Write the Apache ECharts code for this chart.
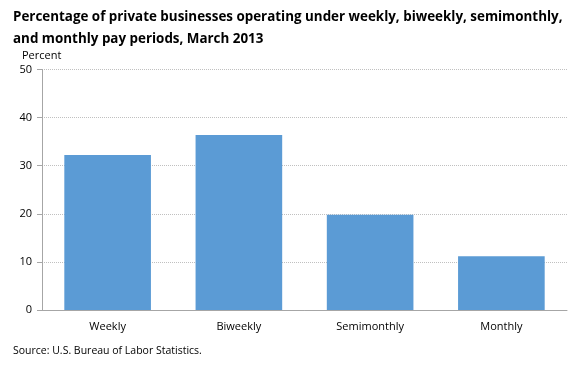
<!DOCTYPE html>
<html><head><meta charset="utf-8">
<script src="https://cdn.jsdelivr.net/npm/echarts@6/dist/echarts.min.js"></script>
<style>html,body{margin:0;padding:0;background:#fff}#c{width:582px;height:366px}</style>
</head><body><div id="c"></div>
<script>
var categories = ["Weekly", "Biweekly", "Semimonthly", "Monthly"];
var values = [32.2, 36.4, 19.8, 11.2];
var yTicks = [0, 10, 20, 30, 40, 50];

var chart = echarts.init(document.getElementById('c'), null, {renderer: 'canvas'});
var font = "'Open Sans', 'Noto Sans', sans-serif";
chart.setOption({
  animation: false,
  title: [{
    text: "Percentage of private businesses operating under weekly, biweekly, semimonthly,\nand monthly pay periods, March 2013",
    left: 8, top: 1,
    textStyle: {fontFamily: font, fontWeight: 'bold', fontSize: 13.4, lineHeight: 22, color: '#000'}
  }, {
    text: "Source: U.S. Bureau of Labor Statistics.",
    left: 8, top: 341,
    textStyle: {fontFamily: font, fontWeight: 'normal', fontSize: 10.5, color: '#000'}
  }],
  grid: {left: 42, right: 15, top: 69.5, bottom: 56},
  xAxis: {
    type: 'category', data: categories,
    axisLine: {lineStyle: {color: '#a6a6a6', width: 1}},
    axisTick: {show: false},
    axisLabel: {fontFamily: font, fontSize: 11, color: '#000', margin: 11}
  },
  yAxis: {
    type: 'value', min: yTicks[0], max: yTicks[yTicks.length - 1], interval: 10,
    name: 'Percent', nameLocation: 'end', nameGap: 8,
    nameTextStyle: {fontFamily: font, fontSize: 11, color: '#000', align: 'left', padding: [0, 0, 0, -20]},
    axisLine: {show: true, lineStyle: {color: '#a6a6a6', width: 1}},
    axisTick: {show: true, length: 5, lineStyle: {color: '#a6a6a6'}},
    axisLabel: {fontFamily: font, fontSize: 11, color: '#000', margin: 10},
    splitLine: {show: true, lineStyle: {color: '#c0c0c0', type: [1, 1], width: 1}}
  },
  series: [{
    type: 'bar', data: values, barWidth: '66%',
    itemStyle: {color: '#5b9bd5'}
  }]
});
</script></body></html>
